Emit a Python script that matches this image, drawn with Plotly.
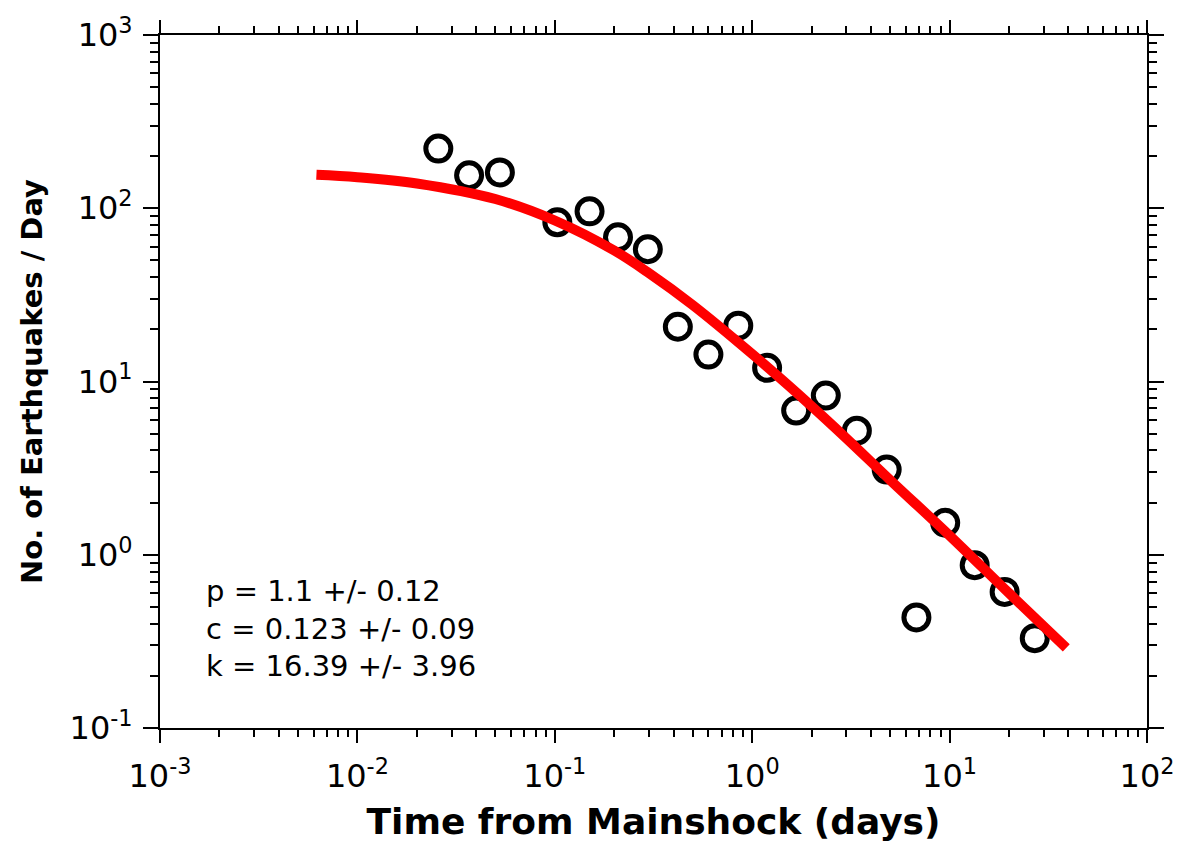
import plotly.graph_objects as go

time_days = [0.0257, 0.0368, 0.0527, 0.103, 0.150, 0.209, 0.296, 0.42, 0.60, 0.85,
             1.19, 1.67, 2.36, 3.39, 4.80, 6.79, 9.5, 13.4, 19.0, 27.0]
rate_per_day = [221, 155, 161, 83, 96, 68, 58, 20.7, 14.3, 21.0,
                12.0, 6.8, 8.3, 5.2, 3.1, 0.435, 1.53, 0.87, 0.61, 0.33]

# Fitted Omori curve
curve_t = [0.0062, 0.01, 0.02, 0.05, 0.1, 0.2, 0.3, 0.5, 1, 2, 3, 5, 10, 20, 39]
curve_n = [156, 151, 139, 113, 85, 57, 42.2, 27.6, 14.4, 7.2, 4.7, 2.7, 1.29, 0.60, 0.29]

x_tickvals = [0.001, 0.01, 0.1, 1, 10, 100]
x_ticktext = ["10<sup>-3</sup>", "10<sup>-2</sup>", "10<sup>-1</sup>", "10<sup>0</sup>", "10<sup>1</sup>", "10<sup>2</sup>"]
y_tickvals = [0.1, 1, 10, 100, 1000]
y_ticktext = ["10<sup>-1</sup>", "10<sup>0</sup>", "10<sup>1</sup>", "10<sup>2</sup>", "10<sup>3</sup>"]

fit_text = ["p = 1.1 +/- 0.12", "c = 0.123 +/- 0.09", "k = 16.39 +/- 3.96"]

x_minor = [m * 10 ** e for e in range(-3, 2) for m in range(2, 10)]
y_minor = [m * 10 ** e for e in range(-1, 3) for m in range(2, 10)]

FONT = "DejaVu Sans"

fig = go.Figure()
fig.add_trace(go.Scatter(
    x=time_days, y=rate_per_day, mode="markers",
    marker=dict(symbol="circle-open", size=25, color="black", line=dict(width=5, color="black")),
    showlegend=False, hoverinfo="skip"))
fig.add_trace(go.Scatter(
    x=curve_t, y=curve_n, mode="lines", line=dict(color="#ff0000", width=10, shape="spline"),
    showlegend=False, hoverinfo="skip"))

axis_common = dict(
    type="log", showgrid=False, zeroline=False, showline=True, linecolor="black", linewidth=2,
    mirror="ticks", ticks="outside", tickcolor="black", tickwidth=2,
    tickmode="array", tickfont=dict(family=FONT, size=32, color="black"),
)

fig.update_xaxes(
    **axis_common, range=[-3, 2], tickvals=x_tickvals, ticktext=x_ticktext, ticklen=13,
    ticklabelstandoff=6,
    minor=dict(tickvals=x_minor, ticks="outside", ticklen=7, tickwidth=2, tickcolor="black"),
    title=dict(text="Time from Mainshock (days)", font=dict(family=FONT, size=36, color="black", weight="bold"), standoff=14),
)
fig.update_yaxes(
    **axis_common, range=[-1, 3], tickvals=y_tickvals, ticktext=y_ticktext, ticklen=15,
    ticklabelstandoff=4,
    minor=dict(tickvals=y_minor, ticks="outside", ticklen=8, tickwidth=2, tickcolor="black"),
    title=dict(text="No. of Earthquakes / Day", font=dict(family=FONT, size=29, color="black", weight="bold"), standoff=18),
)

fig.add_annotation(
    xref="paper", yref="paper", x=0.045, y=0.143, xanchor="left", yanchor="middle",
    text="<br>".join(fit_text), showarrow=False, align="left",
    font=dict(family=FONT, size=29, color="black"))

fig.update_layout(
    width=1186, height=847, margin=dict(l=160, r=33, t=33, b=118),
    paper_bgcolor="white", plot_bgcolor="white",
)

fig.write_html("out.html")
